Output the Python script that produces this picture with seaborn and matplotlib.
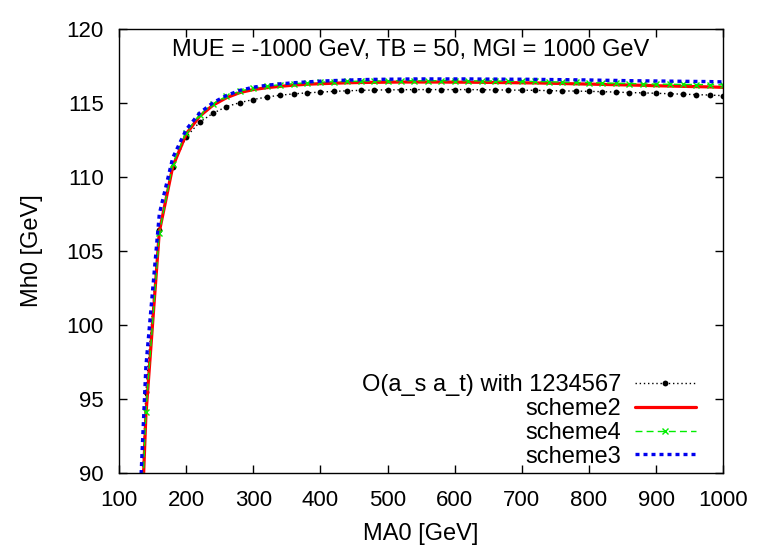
import matplotlib
matplotlib.use("Agg")
import matplotlib.pyplot as plt
import seaborn as sns

# MA0 grid [GeV]
MA0 = [120, 140, 160, 180, 200, 220, 240, 260, 280, 300,
       320, 340, 360, 380, 400, 420, 440, 460, 480, 500,
       520, 540, 560, 580, 600, 620, 640, 660, 680, 700,
       720, 740, 760, 780, 800, 820, 840, 860, 880, 900,
       920, 940, 960, 980, 1000]

# Mh0 [GeV] per scheme
MH_OAS = [71.0, 95.5, 106.4, 110.7, 112.7, 113.7, 114.3, 114.75, 115.02, 115.23,
          115.4, 115.52, 115.61, 115.68, 115.73, 115.78, 115.82, 115.85, 115.87, 115.88,
          115.89, 115.9, 115.9, 115.9, 115.9, 115.9, 115.89, 115.88, 115.87, 115.86,
          115.85, 115.83, 115.81, 115.8, 115.78, 115.76, 115.73, 115.7, 115.68, 115.65,
          115.62, 115.59, 115.56, 115.53, 115.49]
MH_S2 = [70.5, 93.9, 106.3, 110.7, 112.9, 114.1, 114.85, 115.35, 115.7, 115.9,
         116.03, 116.12, 116.2, 116.26, 116.3, 116.33, 116.36, 116.38, 116.39, 116.4,
         116.41, 116.41, 116.41, 116.41, 116.4, 116.4, 116.39, 116.38, 116.37, 116.36,
         116.35, 116.33, 116.31, 116.29, 116.27, 116.25, 116.23, 116.21, 116.19, 116.16,
         116.14, 116.12, 116.1, 116.08, 116.05]
MH_S4 = [71.5, 94.1, 106.2, 110.9, 113.0, 114.2, 114.95, 115.45, 115.8, 116.0,
         116.13, 116.23, 116.3, 116.36, 116.4, 116.43, 116.45, 116.47, 116.48, 116.49,
         116.5, 116.5, 116.5, 116.5, 116.5, 116.49, 116.49, 116.48, 116.47, 116.46,
         116.45, 116.43, 116.41, 116.39, 116.37, 116.35, 116.33, 116.31, 116.29, 116.27,
         116.26, 116.25, 116.24, 116.23, 116.22]
MH_S3 = [76.8, 97.2, 107.5, 111.3, 113.2, 114.32, 115.02, 115.5, 115.85, 116.06,
         116.19, 116.29, 116.36, 116.42, 116.47, 116.51, 116.54, 116.57, 116.59, 116.6,
         116.61, 116.62, 116.62, 116.62, 116.62, 116.62, 116.61, 116.61, 116.6, 116.6,
         116.59, 116.58, 116.57, 116.56, 116.55, 116.53, 116.52, 116.5, 116.49, 116.48,
         116.47, 116.46, 116.45, 116.44, 116.42]

LABELS = ["O(a_s a_t) with 1234567", "scheme2", "scheme4", "scheme3"]
X_TICKS = list(range(100, 1001, 100))
Y_TICKS = list(range(90, 121, 5))
TITLE = "MUE = -1000 GeV, TB = 50, MGl = 1000 GeV"
FS = 17
TICK_FS = 16

sns.set_style("ticks")
plt.rcParams["font.family"] = ["Liberation Sans", "DejaVu Sans"]
plt.rcParams.update({
    "xtick.direction": "in", "ytick.direction": "in",
    "text.color": "black", "axes.labelcolor": "black",
    "xtick.color": "black", "ytick.color": "black",
})

fig = plt.figure(figsize=(7.63, 5.45), dpi=100)
ax = fig.add_axes([0.156, 0.132, 0.792, 0.815])

sns.lineplot(x=MA0, y=MH_OAS, ax=ax, color="black", lw=1.0,
             linestyle=(0, (1, 2)), marker="o", markersize=4.2,
             markeredgewidth=0, label=LABELS[0])
sns.lineplot(x=MA0, y=MH_S2, ax=ax, color="#ff0000", lw=2.3,
             linestyle="-", label=LABELS[1])
sns.lineplot(x=MA0, y=MH_S4, ax=ax, color="#00ee00", lw=1.0,
             linestyle=(0, (5, 3)), marker="x", markersize=4.5,
             markeredgewidth=1.0, markeredgecolor="#00ee00",
             label=LABELS[2])
sns.lineplot(x=MA0, y=MH_S3, ax=ax, color="#0000ee", lw=2.4,
             linestyle=(0, (1.2, 1.2)), label=LABELS[3])

ax.set_xlim(100, 1000)
ax.set_ylim(90, 120)
ax.set_xticks(X_TICKS)
ax.set_yticks(Y_TICKS)
ax.tick_params(axis="both", labelsize=TICK_FS, length=6, width=1,
               top=True, right=True, colors="black")
ax.tick_params(axis="x", pad=12)
ax.tick_params(axis="y", pad=11)
for sp in ax.spines.values():
    sp.set_linewidth(1.0)
    sp.set_color("black")

ax.set_xlabel("MA0 [GeV]", fontsize=FS, labelpad=9)
ax.set_ylabel("Mh0 [GeV]", fontsize=FS, labelpad=17)
ax.text(0.483, 0.978, TITLE, transform=ax.transAxes, ha="center", va="top",
        fontsize=FS)

ax.legend(loc="lower right", bbox_to_anchor=(0.954, 0.012), frameon=False,
          markerfirst=False, fontsize=FS, handlelength=2.55,
          handletextpad=0.6, labelspacing=0.08, borderaxespad=0.0,
          borderpad=0.0)

fig.savefig("out.png", dpi=100)
